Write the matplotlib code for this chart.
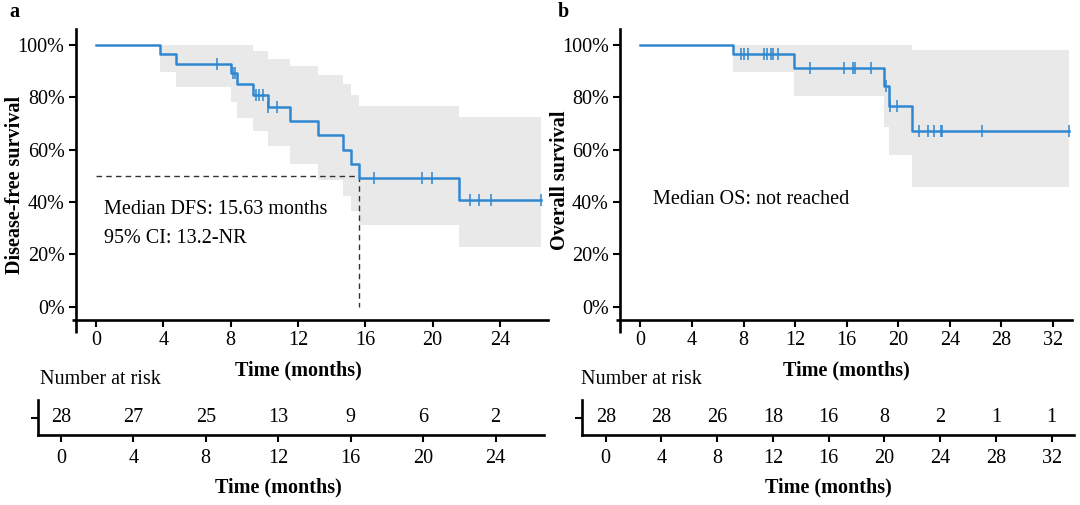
import numpy as np
import matplotlib
matplotlib.use("Agg")
import matplotlib.pyplot as plt
from matplotlib.transforms import blended_transform_factory as btf

plt.rcParams['font.family'] = ['Liberation Serif', 'DejaVu Serif']
plt.rcParams['font.size'] = 14.5

# ---------------- data: panel a (DFS) ----------------
a_event_t = [3.80, 4.73, 8.02, 8.37, 9.35, 10.20, 11.53, 13.22, 14.69, 15.13, 15.63, 21.57]
a_surv    = [96.4, 92.9, 89.1, 85.1, 81.0, 76.3, 70.9, 65.5, 60.0, 54.5, 49.0, 40.8]
a_censor  = [7.21, 8.12, 8.26, 9.50, 9.70, 9.90, 10.24, 10.73, 16.54, 19.35, 19.98, 22.22, 22.78, 23.45, 26.45]
a_end = 26.45
a_upper_t = [3.80, 9.35, 10.20, 11.53, 13.22, 14.69, 15.13, 15.63, 21.57]
a_upper   = [100.0, 97.5, 94.7, 91.9, 88.7, 85.1, 80.9, 76.6, 72.4]
a_lower_t = [3.80, 4.73, 8.02, 8.37, 9.35, 10.20, 11.53, 13.22, 14.69, 15.13, 15.63, 21.57]
a_lower   = [89.8, 83.9, 78.1, 72.2, 67.1, 61.4, 54.6, 48.3, 42.2, 36.6, 31.2, 22.9]
a_median = 15.63
a_risk_t = [0, 4, 8, 12, 16, 20, 24]
a_risk_n = [28, 27, 25, 13, 9, 6, 2]

# ---------------- data: panel b (OS) ----------------
b_event_t = [7.21, 11.89, 18.91, 19.25, 21.04]
b_surv    = [96.4, 91.3, 84.3, 76.6, 67.0]
b_censor  = [7.83, 8.04, 8.31, 9.56, 9.78, 10.15, 10.31, 10.68, 13.17, 15.79, 16.51, 16.64,
             17.86, 19.08, 19.36, 19.92, 21.63, 22.28, 22.77, 23.31, 23.39, 26.52, 33.2]
b_end = 33.2
b_upper_t = [7.21, 21.04]
b_upper   = [100.0, 98.1]
b_lower_t = [7.21, 11.89, 18.91, 19.25, 21.04]
b_lower   = [89.6, 80.4, 68.8, 58.1, 45.7]
b_risk_t = [0, 4, 8, 12, 16, 20, 24, 28, 32]
b_risk_n = [28, 28, 26, 18, 16, 8, 2, 1, 1]

BLUE = '#2f87d0'
BAND = '#e9e9e9'
LW_SPINE = 1.9

W, H = 1080, 505
fig = plt.figure(figsize=(W / 100, H / 100), dpi=100)


def rect(l, r, t, b):
    return [l / W, (H - b) / H, (r - l) / W, (b - t) / H]


def step_value(times, vals, t, start=100.0):
    times = np.asarray(times)
    i = np.searchsorted(times, t, side='right') - 1
    return start if i < 0 else vals[i]


def km_panel(ax, ev_t, surv, cens, end, up_t, up, lo_t, lo, xlim, xticks):
    # confidence band
    grid = np.unique(np.concatenate([up_t, lo_t, [end]]))
    upv = [step_value(up_t, up, g) for g in grid]
    lov = [step_value(lo_t, lo, g) for g in grid]
    ax.fill_between(grid, lov, upv, step='post', color=BAND, lw=0, zorder=1)
    # curve
    xs = np.concatenate([[0], ev_t, [end]])
    ys = np.concatenate([[100], surv, [surv[-1]]])
    ax.step(xs, ys, where='post', color=BLUE, lw=1.8, zorder=3)
    cy = [step_value(ev_t, surv, c) for c in cens]
    ax.plot(cens, cy, ls='none', marker='|', ms=9, mew=1.1, color=BLUE, zorder=4)
    ax.set_xlim(*xlim)
    ax.set_ylim(-5.16, 106.1)
    ax.set_xticks(xticks)
    ax.set_yticks([0, 20, 40, 60, 80, 100])
    ax.set_yticklabels([f'{v}%' for v in [0, 20, 40, 60, 80, 100]])
    for s in ['top', 'right']:
        ax.spines[s].set_visible(False)
    for s in ['left', 'bottom']:
        ax.spines[s].set_linewidth(LW_SPINE)
    ax.tick_params(direction='out', length=5, width=1.5, labelsize=14.5, pad=3)
    # prism-like extended spines
    ax.plot([0, 0], [0, -0.045], transform=ax.transAxes, color='black', lw=LW_SPINE, clip_on=False,
            solid_capstyle='butt')
    ax.plot([0, -0.008], [0, 0], transform=ax.transAxes, color='black', lw=LW_SPINE, clip_on=False,
            solid_capstyle='butt')


def risk_panel(ax, rt, rn, xlim):
    ax.set_xlim(*xlim)
    ax.set_ylim(0, 1)
    ax.set_xticks(rt)
    ax.set_yticks([0.486])
    ax.set_yticklabels([''])
    for s in ['top', 'right']:
        ax.spines[s].set_visible(False)
    for s in ['left', 'bottom']:
        ax.spines[s].set_linewidth(LW_SPINE)
    ax.tick_params(direction='out', length=5, width=1.5, labelsize=14.5, pad=5)
    for t, n in zip(rt, rn):
        ax.text(t, 0.486, str(n), ha='center', va='center', fontsize=14.5)
    tr = btf(ax.transData, ax.transAxes)
    return tr


# ---------------- panel a ----------------
ax_a = fig.add_axes(rect(75.7, 548, 29, 320))
km_panel(ax_a, a_event_t, a_surv, a_censor, a_end, a_upper_t, a_upper, a_lower_t, a_lower,
         (-1.21, 26.86), [0, 4, 8, 12, 16, 20, 24])
ax_a.plot([0, a_median], [50, 50], ls=(0, (4, 3)), color='#333333', lw=1.0, zorder=2)
ax_a.plot([a_median, a_median], [50, 0], ls=(0, (4, 3)), color='#333333', lw=1.0, zorder=2)
ax_a.text(0.48, 36.9, 'Median DFS: 15.63 months', ha='left', va='center', fontsize=14.5)
ax_a.text(0.48, 26.0, '95% CI: 13.2-NR', ha='left', va='center', fontsize=14.5)
ax_a.text(12, -0.172, 'Time (months)', transform=btf(ax_a.transData, ax_a.transAxes),
          ha='center', va='center', fontweight='bold', fontsize=14.5)

# ---------------- panel b ----------------
ax_b = fig.add_axes(rect(620, 1072, 29, 320))
km_panel(ax_b, b_event_t, b_surv, b_censor, b_end, b_upper_t, b_upper, b_lower_t, b_lower,
         (-1.59, 33.47), [0, 4, 8, 12, 16, 20, 24, 28, 32])
ax_b.text(0.97, 40.8, 'Median OS: not reached', ha='left', va='center', fontsize=14.5)
ax_b.text(16, -0.172, 'Time (months)', transform=btf(ax_b.transData, ax_b.transAxes),
          ha='center', va='center', fontweight='bold', fontsize=14.5)

# ---------------- risk tables ----------------
r_a = fig.add_axes(rect(38.3, 544, 400, 435))
tr = risk_panel(r_a, a_risk_t, a_risk_n, (-1.24, 26.67))
r_a.text(12, -1.51, 'Time (months)', transform=tr, ha='center', va='center',
         fontweight='bold', fontsize=14.5)

r_b = fig.add_axes(rect(582.3, 1074, 400, 435))
tr = risk_panel(r_b, b_risk_t, b_risk_n, (-1.68, 33.6))
r_b.text(16, -1.51, 'Time (months)', transform=tr, ha='center', va='center',
         fontweight='bold', fontsize=14.5)

fig.text(40 / W, 1 - 380 / H, 'Number at risk', ha='left', va='center', fontsize=14.5)
fig.text(581 / W, 1 - 380 / H, 'Number at risk', ha='left', va='center', fontsize=14.5)

# y labels and panel letters
fig.text(15 / W, 1 - 185 / H, 'Disease-free survival', rotation=90, ha='center', va='center',
         fontweight='bold', fontsize=14.5)
fig.text(560 / W, 1 - 180 / H, 'Overall survival', rotation=90, ha='center', va='center',
         fontweight='bold', fontsize=14.5)
fig.text(14 / W, 1 - 12 / H, 'a', ha='center', va='center', fontweight='bold', fontsize=14.5)
fig.text(563 / W, 1 - 12 / H, 'b', ha='center', va='center', fontweight='bold', fontsize=14.5)

fig.savefig('out.png', dpi=100)
